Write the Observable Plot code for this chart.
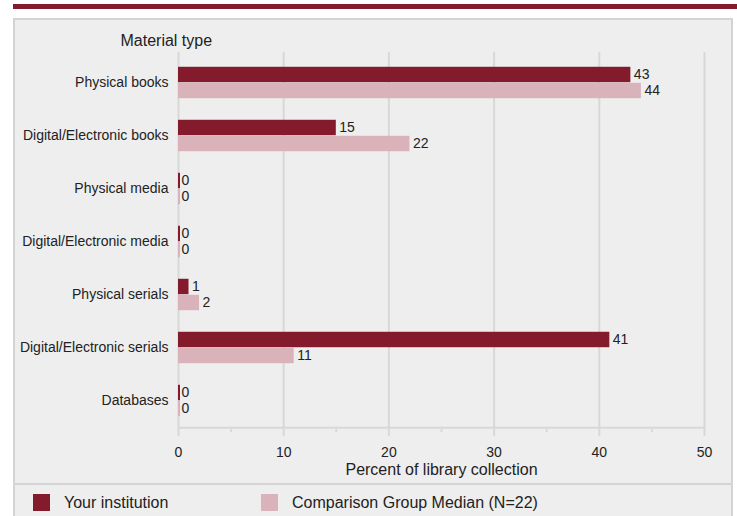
<!DOCTYPE html>
<html>
<head>
<meta charset="utf-8">
<script src="https://cdn.jsdelivr.net/npm/d3@7"></script>
<script src="https://cdn.jsdelivr.net/npm/@observablehq/plot@0.6"></script>
<style>
  html, body { margin: 0; padding: 0; background: #fff; }
  body { width: 737px; height: 516px; overflow: hidden; position: relative; font-family: "Liberation Sans", Arial, sans-serif; color: #222; }
  .topbar { position: absolute; left: 13px; top: 4px; width: 724px; height: 5px; background: #841b2d; }
  .panel { position: absolute; left: 13px; top: 18px; width: 720px; height: 520px; box-sizing: border-box; background: #eeeeee; border: 2px solid #d4d4d4; }
  .sep { position: absolute; left: 13px; top: 483px; width: 720px; height: 2px; background: #d4d4d4; }
  #chart { position: absolute; left: 0; top: 0; }
  .legend-item { position: absolute; top: 494px; height: 17px; display: flex; align-items: center; font-size: 16px; }
  .swatch { width: 17px; height: 17px; margin-right: 14px; }
</style>
</head>
<body>
<div class="topbar"></div>
<div class="panel"></div>
<div id="chart"></div>
<div class="sep"></div>
<div id="legend"></div>
<script>
const categories = ["Physical books", "Digital/Electronic books", "Physical media", "Digital/Electronic media", "Physical serials", "Digital/Electronic serials", "Databases"];
const yourInstitution = [43, 15, 0, 0, 1, 41, 0];
const comparisonMedian = [44, 22, 0, 0, 2, 11, 0];
const seriesNames = ["Your institution", "Comparison Group Median (N=22)"];
const seriesColors = ["#841b2d", "#d9b3b9"];
const majorTicks = [0, 10, 20, 30, 40, 50];
const minorTicks = [5, 15, 25, 35, 45];
const gridTicks = [10, 20, 30, 40, 50];
const xLabel = "Percent of library collection";
const yLabel = "Material type";

const ours = categories.map((c, i) => ({cat: c, v: yourInstitution[i]}));
const comp = categories.map((c, i) => ({cat: c, v: comparisonMedian[i]}));

const W = 737, H = 483;
const mTop = 54, mBottom = 54;
const half = (H - mTop - mBottom) / categories.length / 2;
const barH = 16;
const font = "Liberation Sans, Arial, sans-serif";

const chart = Plot.plot({
  width: W, height: H,
  marginLeft: 178, marginRight: 33, marginTop: mTop, marginBottom: mBottom,
  style: {background: "transparent", fontFamily: font, fontSize: "14px", color: "#222"},
  x: {domain: [0, 50]},
  y: {domain: categories, padding: 0},
  marks: [
    Plot.ruleX(gridTicks, {stroke: "#d8d8d8", strokeWidth: 2, insetTop: -2}),
    Plot.ruleX([0], {stroke: "#d8d8d8", strokeWidth: 2, insetTop: -2}),
    Plot.ruleY([categories[categories.length - 1]], {dy: half, stroke: "#d8d8d8", strokeWidth: 2}),
    Plot.axisX(minorTicks, {tickSize: 3, tickFormat: () => "", stroke: "#d8d8d8", strokeWidth: 2, label: null}),
    Plot.axisX(majorTicks, {tickSize: 7, tickPadding: 11, stroke: "#d8d8d8", strokeWidth: 2, fill: "#222", fontSize: 14, label: null}),
    Plot.axisY({tickSize: 0, tickPadding: 10, fontSize: 14, fill: "#222", label: null}),
    Plot.barX(ours, {x1: 0, x2: "v", y: "cat", fill: seriesColors[0], insetTop: half - barH, insetBottom: half}),
    Plot.barX(comp, {x1: 0, x2: "v", y: "cat", fill: seriesColors[1], insetTop: half, insetBottom: half - barH}),
    Plot.barX(ours.filter(d => d.v === 0), {x1: 0, x2: "v", y: "cat", fill: seriesColors[0], insetTop: half - barH, insetBottom: half, insetRight: -2}),
    Plot.barX(comp.filter(d => d.v === 0), {x1: 0, x2: "v", y: "cat", fill: seriesColors[1], insetTop: half, insetBottom: half - barH, insetRight: -2}),
    Plot.text(ours, {x: "v", y: "cat", text: d => String(d.v), dx: 3, dy: -8, textAnchor: "start", fontSize: 14, fill: "#222"}),
    Plot.text(comp, {x: "v", y: "cat", text: d => String(d.v), dx: 3, dy: 8, textAnchor: "start", fontSize: 14, fill: "#222"}),
    Plot.text([xLabel], {frameAnchor: "bottom", dy: 45, fontSize: 16, fill: "#222"}),
    Plot.text([yLabel], {frameAnchor: "top-left", dx: -58, dy: -20, textAnchor: "start", fontSize: 16, fill: "#222"})
  ]
});
document.getElementById("chart").appendChild(chart);

const legend = document.getElementById("legend");
const legendX = [33, 261];
seriesNames.forEach((name, i) => {
  const item = document.createElement("div");
  item.className = "legend-item";
  item.style.left = legendX[i] + "px";
  const sw = document.createElement("div");
  sw.className = "swatch";
  sw.style.background = seriesColors[i];
  const lab = document.createElement("span");
  lab.textContent = name;
  item.appendChild(sw);
  item.appendChild(lab);
  legend.appendChild(item);
});
</script>
</body>
</html>
